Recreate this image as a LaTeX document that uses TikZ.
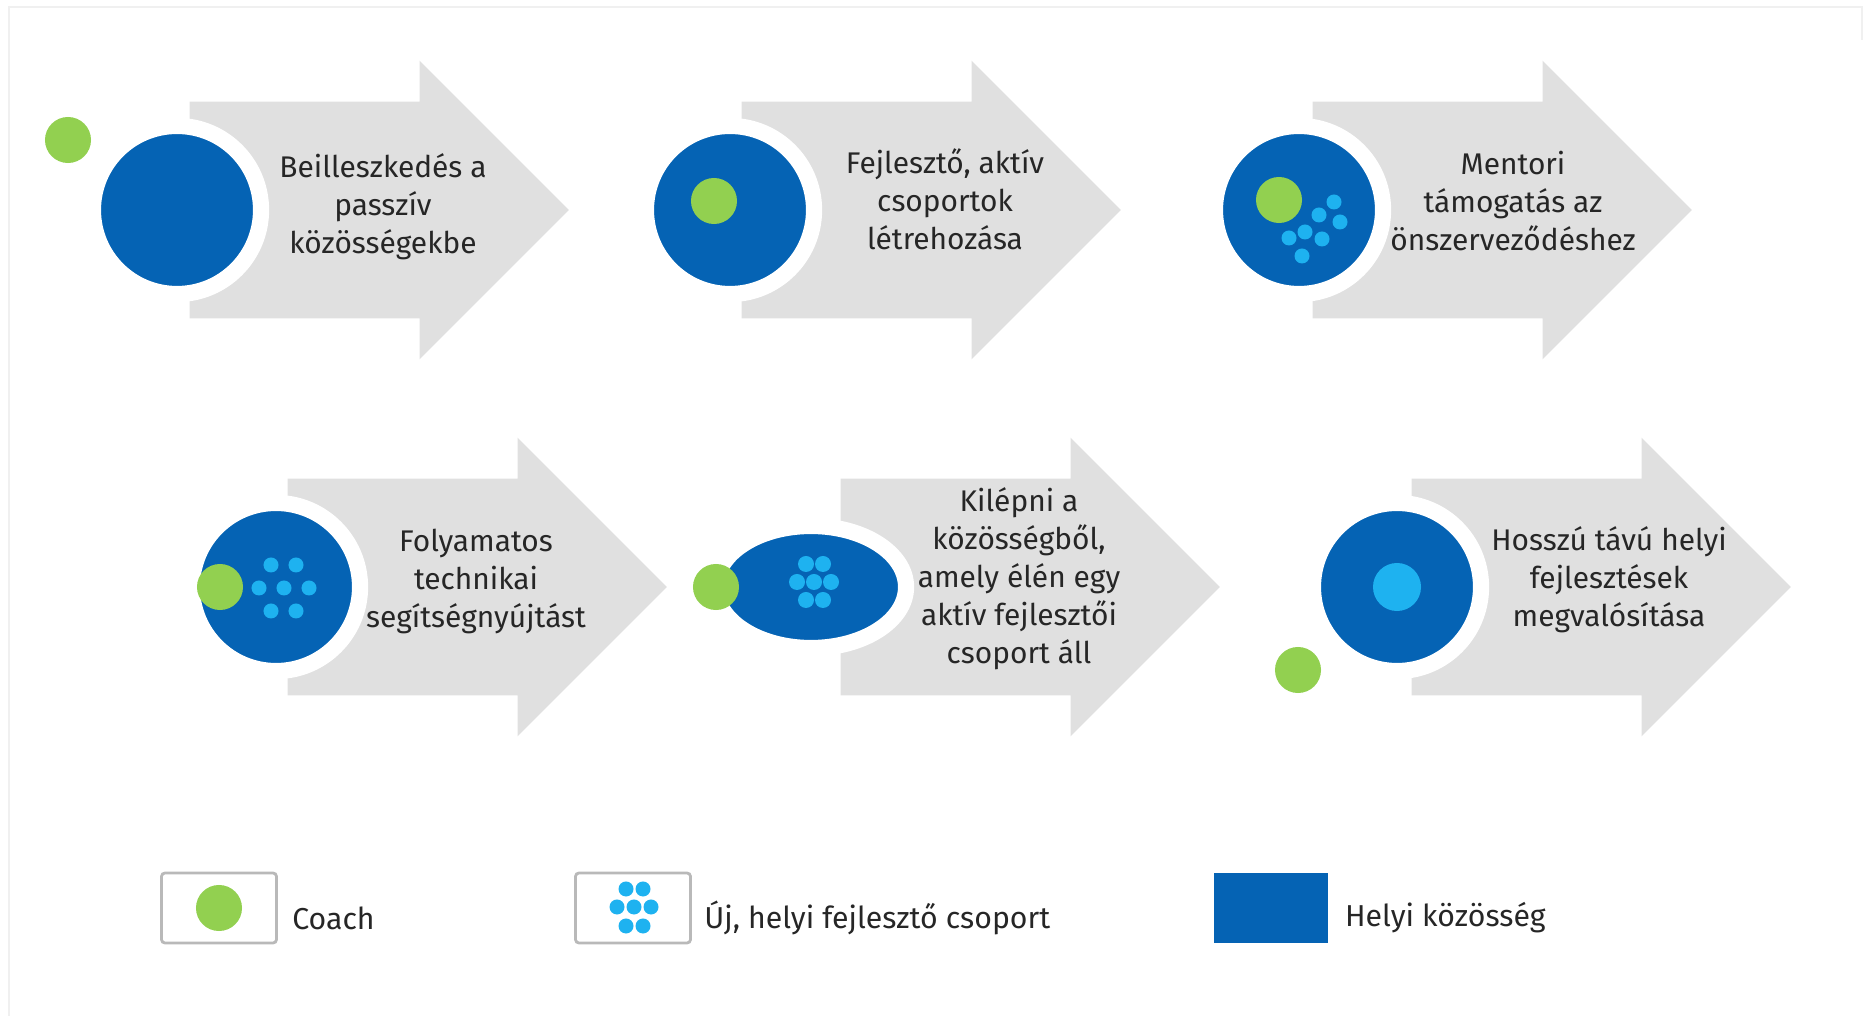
\documentclass[tikz,border=0pt]{standalone}
\usepackage{fontspec}
\setmainfont{Fira Sans}
\usetikzlibrary{shapes.arrows,shapes.geometric,positioning}

\definecolor{kozblue}{RGB}{5,99,180}
\definecolor{coachgreen}{RGB}{146,208,80}
\definecolor{groupcyan}{RGB}{30,178,240}
\definecolor{arrowgray}{RGB}{224,224,224}

\begin{document}
\begin{tikzpicture}[x=0.01cm, y=-0.01cm,
    steparrow/.style={single arrow, fill=arrowgray, minimum height=3.79cm, minimum width=2.97cm,
        single arrow head extend=0.41cm, single arrow tip angle=90, inner xsep=0pt, inner ysep=1.075cm,
        anchor=tail},
    community/.style={circle, fill=kozblue, draw=white, line width=4.6pt, minimum size=1.68cm, inner sep=0pt},
    coach/.style={circle, fill=coachgreen, minimum size=0.46cm, inner sep=0pt},
    member/.style={circle, fill=groupcyan, minimum size=0.15cm, inner sep=0pt},
    steptext/.style={align=center, text=black!85, font=\fontsize{8.5}{10.8}\selectfont},
    legbox/.style={draw=gray!55, line width=0.8pt, rounded corners=1pt, minimum width=1.15cm,
        minimum height=0.7cm, inner sep=0pt},
    legtext/.style={font=\fontsize{8.6}{11}\selectfont, text=black!85}]

    \useasboundingbox (0,0) rectangle (1875,1016);
    \draw[black!6] (9,1016) -- (9,7) -- (1862,7) -- (1862,40);

    % Stage 1
    \node[steparrow] (a1) at (189,210) {};
    \node[community] (c1) at (177,210) {};
    \node[coach] (g1) at (68,140) {};
    \node[steptext] (t1) at (383,207) {Beilleszkedés a\\passzív\\közösségekbe};

    % Stage 2
    \node[steparrow] (a2) at (741,210) {};
    \node[community] (c2) at (730,210) {};
    \node[coach] (g2) at (714,201) {};
    \node[steptext] (t2) at (945,199) {Fejlesztő, aktív\\csoportok\\létrehozása};

    % Stage 3
    \node[steparrow] (a3) at (1312,210) {};
    \node[community] (c3) at (1299,210) {};
    \node[coach] (g3) at (1279,200) {};
    \foreach \p [count=\i] in {(1334,202),(1319,215),(1340,222),(1305,232),(1289,238),(1322,239),(1302,256)}
        \node[member] (m3-\i) at \p {};
    \node[steptext] (t3) at (1513,201) {Mentori\\támogatás az\\önszerveződéshez};

    % Stage 4
    \node[steparrow] (a4) at (287,587) {};
    \node[community] (c4) at (276,587) {};
    \node[coach] (g4) at (220,587) {};
    \foreach \p [count=\i] in {(271,565),(296,565),(259,588),(284,588),(309,588),(271,611),(296,611)}
        \node[member] (m4-\i) at \p {};
    \node[steptext] (t4) at (476,581) {Folyamatos\\technikai\\segítségnyújtást};

    % Stage 5
    \node[steparrow] (a5) at (840,587) {};
    \node[community, ellipse, minimum width=1.9cm, minimum height=1.22cm] (c5) at (811,587) {};
    \node[coach] (g5) at (716,587) {};
    \foreach \p [count=\i] in {(806,564),(823,564),(797,582),(814,582),(831,582),(806,600),(823,600)}
        \node[member, minimum size=0.16cm] (m5-\i) at \p {};
    \node[steptext] (t5) at (1019,579) {Kilépni a\\közösségből,\\amely élén egy\\aktív fejlesztői\\csoport áll};

    % Stage 6
    \node[steparrow] (a6) at (1411,587) {};
    \node[community] (c6) at (1397,587) {};
    \node[circle, fill=groupcyan, minimum size=0.48cm, inner sep=0pt] (m6) at (1397,587) {};
    \node[coach] (g6) at (1298,670) {};
    \node[steptext] (t6) at (1609,580) {Hosszú távú helyi\\fejlesztések\\megvalósítása};

    % Legend
    \node[legbox] (lb1) at (219,908) {};
    \node[coach] (lg1) at (lb1) {};
    \node[legtext, right=0.02cm of lb1, yshift=-0.1cm] (l1) {Coach};

    \node[legbox] (lb2) at (633,908) {};
    \foreach \p [count=\i] in {(626,889),(643,889),(617,907),(634,907),(651,907),(626,926),(643,926)}
        \node[member] (lg2-\i) at \p {};
    \node[legtext, right=0cm of lb2, yshift=-0.1cm] (l2) {Új, helyi fejlesztő csoport};

    \node[fill=kozblue, minimum width=1.14cm, minimum height=0.69cm, inner sep=0pt] (lb3) at (1271,908) {};
    \node[legtext, right=0.04cm of lb3, yshift=-0.1cm] (l3) {Helyi közösség};
\end{tikzpicture}
\end{document}
